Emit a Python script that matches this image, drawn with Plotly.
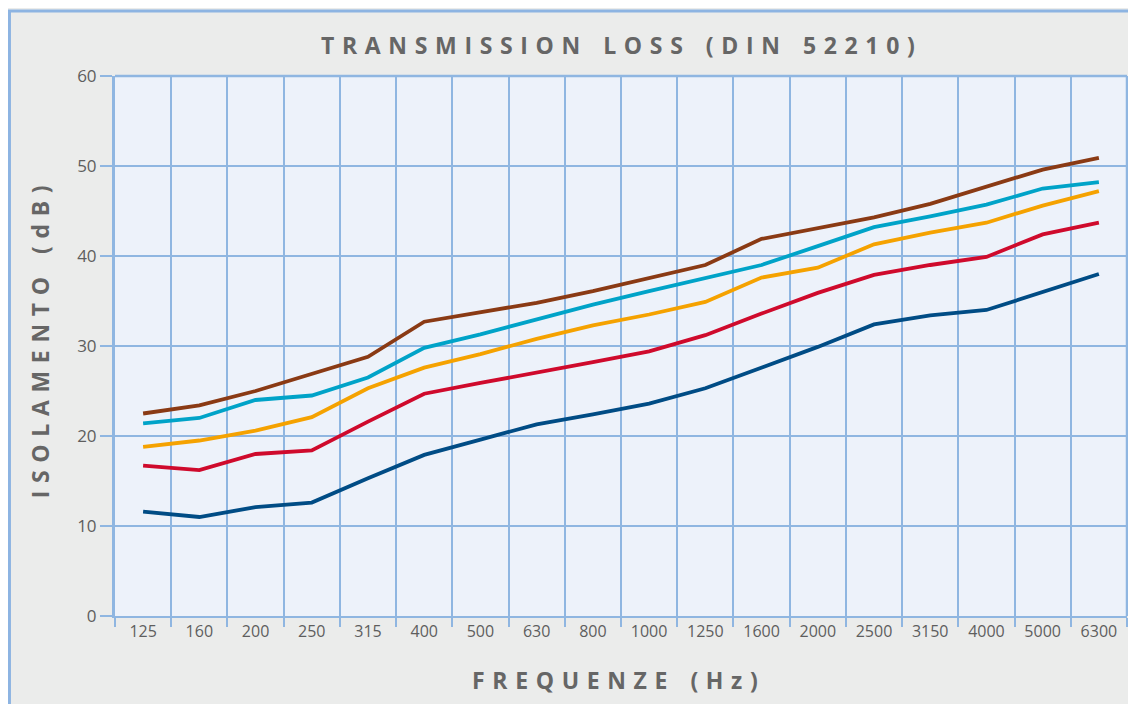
import plotly.graph_objects as go

freqs = ["125", "160", "200", "250", "315", "400", "500", "630", "800", "1000",
         "1250", "1600", "2000", "2500", "3150", "4000", "5000", "6300"]

brown = [22.5, 23.4, 25.0, 26.9, 28.8, 32.7, 33.8, 34.8, 36.1, 37.6,
         39.0, 41.9, 43.1, 44.3, 45.8, 47.7, 49.6, 50.9]
teal = [21.4, 22.0, 24.0, 24.5, 26.5, 29.8, 31.3, 33.0, 34.6, 36.1,
        37.6, 39.0, 41.1, 43.2, 44.4, 45.7, 47.5, 48.2]
orange = [18.8, 19.5, 20.6, 22.1, 25.3, 27.6, 29.1, 30.8, 32.3, 33.5,
          34.9, 37.6, 38.7, 41.3, 42.6, 43.7, 45.6, 47.2]
red = [16.7, 16.2, 18.0, 18.4, 21.6, 24.7, 25.9, 27.0, 28.2, 29.4,
       31.2, 33.6, 35.9, 37.9, 39.0, 39.9, 42.4, 43.7]
darkblue = [11.6, 11.0, 12.1, 12.6, 15.3, 17.9, 19.6, 21.3, 22.4, 23.6,
            25.3, 27.6, 29.9, 32.4, 33.4, 34.0, 36.0, 38.0]

series = [
    ("darkblue", darkblue, "#004C85"),
    ("red", red, "#CF0A2C"),
    ("orange", orange, "#F5A200"),
    ("teal", teal, "#00A3C8"),
    ("brown", brown, "#8A3A14"),
]

FONT = "Open Sans"
GRID = "#8FB6E1"
TITLE_COL = "#666666"

fig = go.Figure()
for name, vals, col in series:
    fig.add_trace(go.Scatter(x=freqs, y=vals, mode="lines", name=name,
                             line=dict(color=col, width=3.8), showlegend=False))

SP = "\u2004"  # three-per-em space for letter spacing


def spaced(text):
    words = text.split(" ")
    return (SP * 3).join(SP.join(list(w)) for w in words)


fig.update_layout(
    width=1136, height=704,
    margin=dict(l=107, r=17, t=68, b=96, autoexpand=False),
    paper_bgcolor="#EBECEB",
    plot_bgcolor="#EDF2FA",
    font=dict(family=FONT, color="#5E5E5E"),
)

fig.add_annotation(text="<b>" + spaced("TRANSMISSION LOSS (DIN 52210)") + "</b>",
                   xref="paper", yref="paper", x=0.497, y=1.057,
                   xanchor="center", yanchor="middle", showarrow=False,
                   font=dict(family=FONT, size=23, color=TITLE_COL))
fig.add_annotation(text="<b>" + spaced("FREQUENZE (Hz)") + "</b>",
                   xref="paper", yref="paper", x=0.494, y=-0.1185,
                   xanchor="center", yanchor="middle", showarrow=False,
                   font=dict(family=FONT, size=23, color=TITLE_COL))
fig.add_annotation(text="<b>" + spaced("ISOLAMENTO (dB)") + "</b>",
                   xref="paper", yref="paper", x=-0.0741, y=0.507,
                   xanchor="center", yanchor="middle", showarrow=False, textangle=-90,
                   font=dict(family=FONT, size=23, color=TITLE_COL))

fig.update_xaxes(
    type="category", range=[-0.5, 17.5], tickson="boundaries", automargin=False,
    showgrid=True, gridcolor=GRID, gridwidth=1.6,
    ticks="outside", ticklen=9, tickcolor=GRID, tickwidth=1.6,
    showline=True, linecolor=GRID, linewidth=2,
    tickfont=dict(family=FONT, size=16, color="#5E5E5E"),
    zeroline=False,
)
fig.update_yaxes(
    range=[0, 60], dtick=10, tick0=0, automargin=False,
    showgrid=True, gridcolor=GRID, gridwidth=1.6,
    ticks="outside", ticklen=12, tickcolor=GRID, tickwidth=2,
    showline=True, linecolor=GRID, linewidth=3, mirror=False,
    tickfont=dict(family=FONT, size=17, color="#5E5E5E"),
    zeroline=False,
)

# outer frame and right/top borders of the plot area
fig.add_shape(type="rect", xref="paper", yref="paper",
              x0=-0.1043, x1=1.03, y0=-0.25, y1=1.1204,
              line=dict(color="#8DB4E2", width=3), fillcolor="rgba(0,0,0,0)", layer="below")
fig.add_shape(type="line", xref="paper", yref="paper", x0=1, x1=1, y0=0, y1=1,
              line=dict(color=GRID, width=2.5))
fig.add_shape(type="line", xref="paper", yref="paper", x0=0, x1=1, y0=1, y1=1,
              line=dict(color=GRID, width=2.5))

fig.write_html("out.html")
